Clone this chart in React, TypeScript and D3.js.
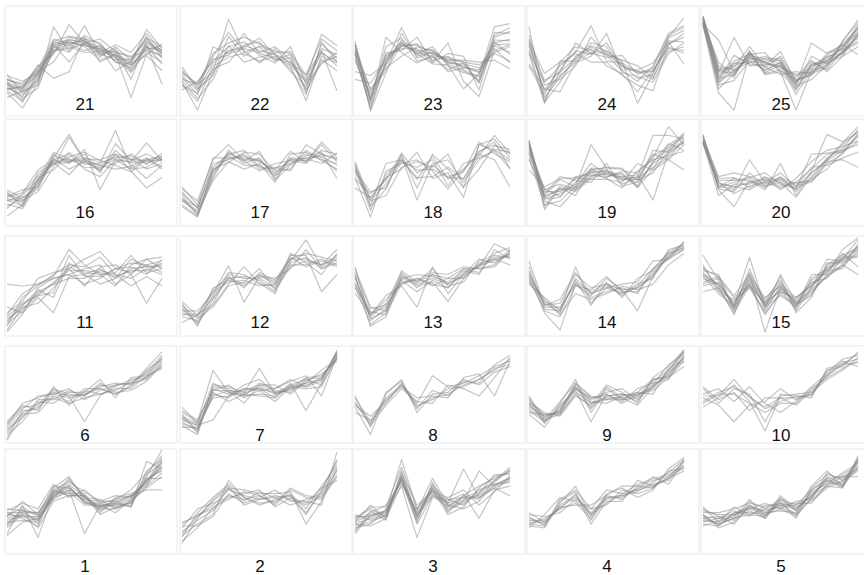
import { useEffect, useRef } from "react";
import * as d3 from "d3";

// each panel: list of profiles, 11 points, value 0 (bottom) .. 10 (top)
const p21 = [
  [2.8, 2.1, 3.9, 6.7, 7.2, 7.0, 6.4, 6.1, 5.2, 7.1, 6.2], [2.2, 1.2, 3.3, 6.2, 7.8, 7.4, 6.8, 5.8, 4.8, 6.8, 5.7],
  [3.4, 2.8, 4.3, 7.3, 6.9, 7.8, 6.1, 5.4, 5.5, 7.7, 6.8], [2.0, 0.4, 3.0, 8.9, 6.3, 9.0, 6.0, 6.6, 4.2, 6.2, 5.2],
  [3.1, 2.4, 4.8, 6.0, 9.1, 7.2, 7.6, 6.3, 5.8, 7.3, 6.4], [3.8, 3.2, 4.0, 7.0, 7.4, 6.8, 5.4, 6.0, 4.9, 6.5, 6.9],
  [2.5, 1.8, 3.5, 6.8, 6.2, 8.0, 7.0, 5.7, 4.4, 6.9, 5.0], [3.0, 1.0, 4.2, 5.2, 7.6, 7.1, 6.2, 7.0, 6.2, 8.2, 6.3],
  [1.5, 2.2, 2.8, 6.5, 7.0, 6.4, 6.9, 5.2, 5.0, 5.9, 4.3], [3.3, 3.0, 4.5, 7.6, 7.1, 7.5, 5.9, 6.4, 3.4, 7.4, 6.0],
  [2.4, 2.6, 4.9, 3.5, 4.2, 7.7, 5.2, 6.0, 1.5, 6.0, 7.1], [3.9, 2.0, 3.2, 7.1, 5.2, 7.2, 6.6, 4.3, 5.3, 7.9, 5.6],
  [2.9, 2.3, 4.1, 6.3, 6.8, 6.2, 6.3, 5.9, 5.1, 8.6, 6.6], [2.3, 2.7, 3.8, 7.4, 7.9, 7.6, 7.2, 5.2, 4.6, 7.0, 2.9],
  [3.2, 1.4, 2.5, 6.9, 7.3, 6.9, 6.6, 6.2, 5.7, 6.4, 5.9], [2.6, 1.6, 3.6, 7.2, 7.5, 7.3, 6.5, 5.6, 4.1, 6.7, 6.5],
  [3.5, 2.5, 4.4, 6.4, 6.6, 7.1, 5.7, 6.8, 5.4, 7.6, 6.1],
];
const p22 = [
  [3.8, 2.2, 5.1, 6.3, 6.9, 6.4, 6.0, 5.2, 3.1, 6.1, 5.3], [3.1, 0.2, 4.2, 9.7, 6.2, 6.8, 5.3, 5.7, 2.1, 5.2, 5.8],
  [4.2, 2.8, 6.1, 7.2, 7.8, 7.1, 6.3, 6.1, 3.4, 8.1, 6.9], [2.9, 1.1, 4.8, 5.7, 6.1, 5.3, 5.8, 4.8, 1.2, 5.8, 5.1],
  [4.4, 2.4, 3.8, 7.9, 5.8, 6.9, 6.2, 6.3, 3.8, 6.4, 2.2], [2.3, 3.2, 5.3, 6.8, 7.3, 5.9, 5.1, 6.8, 2.9, 5.0, 6.2],
  [3.6, 1.8, 6.8, 6.1, 6.6, 6.2, 6.8, 5.4, 2.4, 7.1, 5.6], [3.3, 1.4, 3.4, 6.9, 5.2, 5.7, 6.1, 4.2, 2.7, 6.3, 4.8],
  [4.0, 3.0, 5.5, 5.9, 8.2, 6.1, 5.6, 5.1, 3.9, 7.6, 6.4], [2.7, 2.0, 4.5, 5.2, 7.0, 7.3, 5.4, 6.0, 2.2, 5.5, 4.3],
  [4.7, 2.5, 5.8, 8.3, 6.4, 5.1, 6.6, 4.9, 3.2, 6.6, 6.0], [3.4, 2.9, 4.1, 6.4, 6.7, 7.7, 5.9, 4.5, 1.8, 7.3, 5.2],
];
const p23 = [
  [6.2, 1.2, 4.9, 7.1, 6.3, 6.1, 5.3, 4.8, 4.2, 7.0, 7.1], [7.1, 0.1, 4.1, 8.2, 5.8, 6.3, 5.0, 4.3, 3.3, 8.3, 8.2],
  [5.3, 1.9, 5.8, 6.8, 7.0, 5.4, 5.7, 5.2, 4.9, 6.2, 6.8], [7.4, 1.0, 7.8, 6.2, 5.1, 5.9, 4.4, 5.1, 3.1, 6.9, 6.2],
  [6.0, 0.4, 5.3, 7.3, 6.0, 6.8, 4.8, 4.1, 3.8, 8.9, 9.2], [4.2, 3.8, 5.1, 8.8, 5.6, 6.2, 5.4, 5.4, 5.2, 5.4, 4.5],
  [6.5, 1.4, 6.2, 6.4, 7.8, 5.2, 7.2, 3.2, 1.6, 6.4, 7.0], [6.9, 2.2, 4.3, 7.0, 6.2, 5.8, 4.2, 4.6, 4.4, 7.3, 6.0],
  [5.6, 0.8, 6.0, 6.6, 6.6, 5.1, 6.1, 5.8, 2.3, 7.8, 8.4], [6.3, 2.4, 4.6, 5.8, 6.8, 6.4, 5.1, 5.0, 4.6, 6.1, 5.3],
  [7.0, 1.3, 6.8, 7.7, 5.3, 5.7, 5.8, 4.4, 3.6, 7.2, 7.6], [3.4, 3.0, 5.6, 7.2, 6.1, 5.0, 4.9, 2.4, 4.0, 6.6, 5.1],
  [6.1, 0.3, 5.4, 6.9, 7.1, 6.0, 5.5, 5.2, 3.0, 8.0, 8.8], [6.6, 1.6, 5.0, 7.5, 6.4, 6.5, 5.2, 4.7, 4.1, 7.5, 7.4],
];
const p24 = [
  [7.1, 2.1, 3.8, 5.2, 6.2, 6.1, 4.8, 4.1, 4.2, 7.1, 7.8], [8.9, 1.0, 3.1, 5.8, 6.8, 5.9, 4.3, 3.2, 4.8, 8.2, 9.0],
  [6.2, 3.1, 4.8, 6.2, 9.0, 5.3, 5.1, 4.2, 4.3, 6.8, 6.1], [5.0, 2.4, 2.1, 5.1, 5.8, 8.2, 4.1, 3.7, 3.1, 6.1, 7.2],
  [7.4, 4.0, 5.2, 6.8, 6.4, 6.3, 5.3, 0.9, 4.0, 7.8, 9.8], [6.4, 1.2, 4.2, 5.6, 7.2, 6.8, 4.4, 4.4, 5.1, 7.3, 5.0],
  [8.0, 2.8, 3.4, 4.8, 7.8, 6.0, 5.4, 4.8, 3.6, 6.3, 6.8], [4.8, 1.8, 5.0, 6.1, 5.2, 5.2, 3.8, 2.8, 2.2, 7.0, 8.2],
  [7.2, 3.3, 4.1, 7.2, 6.1, 5.7, 5.9, 3.9, 4.6, 8.0, 8.8], [6.0, 0.9, 5.3, 5.3, 6.6, 4.8, 4.0, 2.1, 4.4, 6.6, 6.4],
  [6.8, 2.3, 4.4, 6.4, 6.0, 7.2, 4.7, 4.3, 3.4, 7.4, 7.3], [7.6, 1.5, 3.6, 5.5, 6.9, 6.4, 5.0, 3.5, 3.9, 7.7, 8.5],
];
const p25 = [
  [9.8, 4.2, 4.1, 6.1, 5.1, 4.8, 3.2, 4.1, 5.0, 6.2, 8.1], [9.2, 3.1, 5.0, 5.8, 4.3, 5.2, 2.2, 4.8, 5.3, 6.8, 8.8],
  [10, 4.8, 4.3, 5.2, 5.2, 4.3, 3.4, 3.9, 5.8, 6.1, 7.9], [9.0, 2.0, 0.2, 6.0, 4.1, 4.9, 3.8, 4.2, 4.8, 6.3, 7.2],
  [9.6, 4.4, 4.8, 5.4, 5.8, 5.3, 2.9, 7.2, 6.1, 6.6, 9.1], [9.3, 5.2, 3.8, 6.3, 3.9, 4.2, 0.2, 4.3, 5.2, 5.8, 8.3],
  [9.9, 3.3, 5.9, 5.0, 4.8, 6.3, 3.1, 5.2, 4.4, 6.4, 7.4], [9.1, 7.5, 4.2, 5.7, 5.2, 4.6, 3.9, 4.5, 5.9, 7.1, 8.7],
  [9.7, 3.8, 5.3, 6.0, 6.2, 4.1, 2.4, 4.8, 5.5, 6.0, 8.0], [9.4, 2.8, 3.3, 5.3, 4.4, 5.1, 2.7, 3.4, 4.9, 7.3, 9.6],
  [10, 4.0, 7.8, 4.8, 5.0, 4.7, 3.6, 5.4, 4.2, 5.8, 6.8], [9.2, 2.4, 4.0, 6.2, 4.6, 5.8, 3.3, 3.8, 6.2, 6.9, 8.2],
  [9.8, 4.6, 3.6, 6.4, 4.0, 4.4, 2.8, 5.8, 5.0, 6.2, 8.9], [9.0, 3.6, 5.1, 5.1, 5.6, 5.0, 1.8, 4.4, 5.4, 7.0, 6.0],
  [9.5, 3.0, 4.4, 5.6, 5.3, 5.4, 3.0, 4.9, 5.7, 6.5, 7.7], [9.3, 4.3, 4.6, 6.8, 4.7, 3.9, 4.2, 4.0, 4.6, 7.4, 9.3],
  [9.7, 3.5, 3.9, 5.9, 5.5, 5.6, 2.5, 5.0, 5.2, 6.7, 8.5],
];
const p16 = [
  [2.0, 1.8, 3.8, 6.1, 6.2, 5.9, 5.4, 6.3, 5.9, 6.0, 6.2], [1.2, 2.2, 3.1, 6.4, 8.9, 6.2, 5.1, 6.8, 6.3, 5.2, 5.8],
  [2.8, 1.2, 4.3, 5.1, 7.0, 5.7, 5.8, 9.3, 5.3, 6.2, 6.6], [2.3, 3.0, 3.3, 6.8, 5.8, 7.3, 3.0, 6.1, 6.0, 8.0, 6.1],
  [0.2, 1.4, 4.8, 5.9, 4.6, 6.3, 6.2, 6.8, 5.0, 3.2, 4.3], [1.8, 2.4, 4.1, 7.0, 6.3, 5.4, 5.3, 5.8, 6.8, 5.8, 6.4],
  [2.6, 1.9, 2.8, 5.4, 8.6, 6.1, 5.6, 5.2, 5.5, 6.4, 5.4], [1.5, 1.0, 3.6, 5.8, 5.9, 6.8, 4.8, 7.9, 6.1, 6.8, 6.0],
  [2.2, 2.7, 5.1, 6.2, 6.8, 5.2, 4.4, 6.2, 5.2, 5.4, 6.3], [3.0, 2.1, 3.4, 6.6, 6.1, 6.4, 5.9, 6.4, 6.6, 5.7, 6.9],
  [1.9, 1.3, 4.0, 6.3, 5.2, 6.0, 5.0, 7.2, 5.7, 4.2, 5.6], [1.0, 2.6, 4.5, 5.7, 6.5, 7.0, 6.1, 5.6, 4.9, 6.3, 5.2],
  [2.5, 1.6, 3.9, 6.0, 6.0, 6.2, 5.6, 6.6, 6.2, 6.1, 6.5],
];
const p17 = [
  [2.1, 0.3, 5.0, 6.8, 6.2, 6.1, 4.8, 6.2, 6.1, 6.8, 6.3], [2.8, 1.0, 5.8, 6.2, 6.8, 5.2, 5.3, 5.8, 6.8, 6.2, 5.8],
  [1.8, 0.8, 4.2, 7.2, 5.8, 6.4, 4.2, 6.3, 6.0, 7.8, 6.0], [1.2, 0.1, 5.2, 5.9, 7.0, 6.8, 5.0, 5.2, 7.2, 6.1, 5.2],
  [3.1, 1.8, 6.2, 7.8, 6.1, 5.0, 5.8, 6.1, 5.8, 7.2, 6.8], [2.4, 0.4, 4.0, 6.0, 5.2, 5.8, 3.8, 6.8, 7.0, 6.4, 5.0],
  [2.0, 1.2, 5.4, 6.8, 7.2, 5.4, 5.4, 5.0, 7.8, 6.8, 6.2], [3.3, 1.4, 6.4, 6.4, 6.4, 6.2, 4.6, 6.4, 6.3, 5.8, 6.9],
  [1.4, 0.2, 4.5, 7.0, 6.0, 7.1, 4.0, 5.6, 6.6, 7.0, 4.2], [2.6, 1.1, 5.1, 6.3, 6.6, 6.0, 5.1, 7.1, 5.9, 8.1, 6.4],
  [1.9, 0.6, 4.8, 6.6, 5.6, 5.6, 4.5, 5.8, 6.4, 6.6, 5.6],
];
const p18 = [
  [5.2, 2.1, 4.2, 6.1, 5.1, 5.2, 4.3, 4.2, 7.1, 7.8, 6.8], [5.8, 1.2, 3.1, 6.8, 3.2, 6.8, 5.2, 3.2, 7.8, 7.2, 6.2],
  [4.3, 0.1, 5.0, 5.8, 6.2, 5.0, 3.1, 5.1, 7.0, 8.1, 5.2], [5.0, 2.8, 3.2, 6.6, 1.9, 5.8, 6.2, 3.8, 6.2, 7.3, 7.0],
  [3.2, 2.2, 4.3, 5.2, 7.0, 4.2, 4.8, 2.2, 7.8, 8.4, 6.4], [5.6, 1.3, 5.8, 6.2, 4.1, 6.6, 4.1, 5.2, 6.8, 6.2, 3.3],
  [4.8, 1.8, 2.4, 5.4, 6.0, 5.4, 6.8, 3.3, 5.2, 7.7, 7.3], [4.1, 2.6, 4.0, 6.9, 4.8, 5.6, 4.4, 4.9, 8.1, 6.8, 6.0],
  [5.4, 0.8, 4.6, 6.2, 4.3, 4.4, 5.4, 4.1, 6.6, 8.8, 6.9], [6.0, 1.9, 3.6, 5.9, 5.4, 6.2, 3.4, 5.8, 6.4, 7.1, 5.3],
];
const p19 = [
  [8.1, 2.2, 3.1, 3.2, 4.8, 5.1, 4.2, 3.8, 5.8, 6.8, 8.1], [7.2, 3.1, 2.3, 3.8, 5.2, 4.4, 4.8, 3.2, 5.2, 7.8, 8.8],
  [8.3, 1.2, 3.4, 2.8, 4.2, 4.8, 4.3, 4.3, 6.8, 6.2, 7.8], [6.2, 2.4, 4.1, 3.3, 7.8, 5.3, 5.2, 4.0, 4.8, 7.2, 8.2],
  [7.8, 2.8, 2.8, 4.2, 4.9, 4.2, 3.2, 5.0, 6.2, 6.6, 7.1], [7.0, 1.8, 1.2, 3.0, 4.4, 5.0, 4.0, 4.4, 8.8, 8.8, 8.4],
  [8.0, 0.9, 3.2, 2.4, 5.1, 5.4, 5.3, 3.3, 6.1, 7.3, 9.1], [5.1, 3.3, 4.2, 4.3, 4.1, 4.1, 3.8, 5.8, 5.1, 6.2, 5.1],
  [8.2, 2.1, 2.6, 3.6, 5.8, 4.6, 4.4, 4.6, 1.9, 7.0, 8.0], [7.4, 2.0, 2.2, 4.4, 4.6, 4.3, 5.0, 4.8, 6.4, 9.7, 7.8],
  [7.7, 3.0, 3.6, 3.1, 5.3, 5.2, 3.6, 4.2, 5.4, 6.4, 8.4], [6.8, 2.6, 4.4, 4.0, 3.8, 5.8, 3.4, 3.8, 7.2, 7.0, 8.9],
  [6.4, 1.4, 1.8, 3.4, 5.0, 4.9, 4.6, 3.4, 5.9, 7.9, 7.2], [7.6, 2.3, 3.0, 3.0, 4.5, 4.7, 4.1, 4.1, 6.6, 7.5, 8.6],
];
const p20 = [
  [8.2, 3.8, 3.2, 3.8, 4.1, 3.8, 3.2, 4.8, 6.1, 7.2, 8.8], [8.8, 3.2, 3.8, 4.2, 3.2, 4.2, 3.0, 4.2, 6.2, 7.8, 9.2],
  [7.9, 3.4, 3.0, 6.2, 3.8, 3.2, 3.8, 5.2, 6.8, 7.0, 8.1], [8.4, 4.2, 4.3, 3.2, 4.3, 4.0, 3.4, 3.8, 5.8, 6.8, 9.0],
  [8.9, 3.0, 1.2, 4.0, 3.0, 5.8, 2.4, 4.8, 6.2, 8.0, 9.7], [8.1, 4.0, 4.0, 4.3, 4.8, 3.6, 3.1, 6.8, 6.9, 7.2, 7.8],
  [8.0, 3.6, 3.4, 3.0, 4.0, 3.4, 3.8, 3.9, 6.0, 6.2, 5.4], [8.6, 4.4, 4.8, 4.4, 3.6, 4.4, 2.8, 5.0, 8.9, 8.1, 9.1],
  [8.3, 3.1, 2.8, 4.8, 3.4, 3.8, 2.2, 4.4, 6.4, 7.4, 9.4], [8.0, 2.4, 3.6, 3.6, 4.4, 3.0, 4.2, 6.0, 7.2, 7.6, 8.2],
  [8.7, 3.8, 2.6, 3.4, 3.8, 4.8, 3.3, 5.4, 5.6, 6.4, 7.0], [8.2, 3.3, 4.2, 3.9, 3.4, 4.3, 3.6, 4.1, 5.2, 7.0, 8.7],
];
const p11 = [
  [1.2, 3.0, 4.2, 5.2, 7.0, 6.2, 6.8, 5.8, 6.8, 7.0, 7.2], [0.2, 2.1, 4.8, 5.8, 6.2, 6.8, 7.2, 5.2, 6.2, 7.8, 6.8],
  [1.8, 3.2, 4.0, 4.3, 8.2, 6.0, 6.0, 6.8, 7.0, 6.2, 7.8], [0.8, 3.8, 5.0, 6.2, 7.2, 7.0, 8.0, 6.2, 5.8, 6.8, 6.2],
  [2.8, 2.2, 3.8, 2.2, 6.0, 6.2, 5.2, 5.8, 7.8, 7.0, 7.0], [0.4, 2.8, 3.2, 4.8, 6.8, 5.0, 7.0, 7.2, 6.2, 3.2, 5.8],
  [2.0, 4.2, 5.2, 6.0, 8.8, 7.2, 6.2, 5.0, 7.2, 7.8, 8.0], [1.0, 2.4, 4.4, 5.2, 5.8, 5.8, 6.6, 6.2, 5.0, 6.0, 5.0],
  [2.2, 3.4, 5.8, 6.4, 6.8, 7.8, 8.6, 6.8, 7.4, 7.2, 7.6], [1.4, 3.0, 4.6, 3.8, 7.4, 6.4, 6.2, 6.4, 8.2, 6.4, 6.8],
  [5.2, 5.0, 5.2, 5.8, 6.2, 5.2, 5.8, 6.8, 6.4, 7.2, 6.4], [1.6, 2.6, 4.0, 5.4, 6.6, 6.6, 6.4, 6.0, 6.6, 6.6, 7.4],
];
const p12 = [
  [2.2, 1.8, 3.8, 5.8, 5.2, 6.1, 5.2, 7.8, 7.8, 7.2, 8.0], [2.8, 1.2, 3.2, 6.2, 5.8, 5.8, 4.8, 7.2, 7.2, 7.8, 7.2],
  [2.0, 2.1, 3.0, 5.2, 7.0, 5.3, 4.2, 7.6, 9.8, 7.0, 8.2], [3.2, 0.8, 4.8, 5.6, 5.0, 6.2, 5.4, 8.2, 8.2, 4.4, 6.2],
  [2.4, 2.4, 4.2, 7.1, 3.3, 6.0, 5.8, 6.8, 8.8, 6.8, 7.8], [1.8, 1.4, 4.0, 6.4, 6.2, 5.2, 5.0, 8.0, 7.0, 7.6, 7.0],
  [3.0, 1.6, 2.8, 5.0, 5.4, 6.8, 4.6, 7.0, 7.6, 7.2, 8.8], [2.6, 1.0, 3.6, 5.8, 6.0, 5.6, 4.4, 8.4, 7.4, 6.2, 8.4],
  [1.2, 2.0, 4.4, 5.4, 5.6, 5.0, 5.2, 7.4, 8.0, 6.8, 7.4], [3.4, 1.9, 4.6, 6.0, 4.8, 6.4, 5.6, 7.8, 8.4, 8.0, 7.6],
];
const p13 = [
  [5.8, 2.2, 2.8, 5.8, 5.2, 5.8, 5.2, 6.2, 7.0, 7.8, 8.2], [5.0, 1.0, 2.2, 5.2, 5.8, 5.2, 4.8, 6.8, 6.8, 7.2, 8.8],
  [6.8, 2.8, 2.4, 6.2, 4.8, 6.2, 5.8, 5.8, 7.2, 8.0, 8.0], [4.3, 2.0, 4.0, 5.0, 2.8, 7.0, 4.2, 6.2, 7.8, 7.4, 8.4],
  [6.2, 0.8, 1.8, 5.8, 6.2, 6.0, 5.4, 6.6, 6.2, 8.8, 7.8], [5.4, 1.8, 3.2, 6.4, 5.0, 5.4, 3.4, 5.8, 7.4, 7.8, 7.2],
  [6.4, 2.6, 3.0, 5.4, 5.6, 6.4, 6.2, 7.0, 6.8, 7.0, 8.6], [4.8, 2.3, 2.0, 6.0, 5.4, 6.8, 5.0, 5.4, 7.6, 8.2, 8.0],
  [7.0, 1.4, 2.6, 5.6, 4.4, 5.6, 4.8, 6.4, 7.0, 9.4, 8.6], [5.2, 2.0, 3.6, 5.2, 5.8, 5.0, 5.8, 6.8, 6.4, 8.4, 9.0],
  [6.0, 1.6, 2.4, 6.6, 5.4, 6.2, 5.2, 6.0, 7.2, 7.6, 8.4],
];
const p14 = [
  [6.2, 3.2, 2.2, 5.8, 4.2, 5.0, 4.3, 4.8, 6.2, 8.2, 9.0], [7.0, 2.8, 2.8, 5.2, 3.8, 4.4, 4.8, 4.2, 6.8, 7.8, 8.8],
  [5.2, 3.8, 2.4, 7.0, 3.2, 4.8, 4.2, 5.2, 5.8, 8.8, 9.2], [6.0, 2.2, 0.4, 5.2, 4.0, 5.8, 4.6, 2.4, 6.0, 8.0, 9.6],
  [7.6, 3.0, 3.2, 6.2, 4.8, 5.2, 4.0, 5.0, 6.8, 8.4, 9.0], [5.8, 3.6, 2.0, 4.2, 3.6, 4.2, 5.0, 4.6, 5.2, 7.2, 8.4],
  [5.4, 3.4, 2.6, 5.6, 3.0, 5.4, 3.8, 5.8, 6.6, 8.6, 9.4], [6.6, 2.4, 1.8, 5.0, 4.6, 6.0, 4.4, 4.4, 6.4, 8.0, 8.8],
  [6.4, 3.0, 3.6, 6.4, 4.2, 4.8, 5.2, 5.4, 7.6, 7.8, 9.6], [5.6, 2.6, 2.4, 5.4, 4.4, 5.2, 4.6, 4.8, 6.0, 8.4, 9.2],
];
const p15 = [
  [6.2, 5.2, 3.2, 5.8, 2.8, 4.8, 3.2, 4.8, 6.8, 7.8, 8.8], [5.2, 5.8, 3.8, 5.2, 2.2, 4.2, 3.0, 4.2, 6.2, 7.2, 9.2],
  [7.0, 4.8, 2.2, 5.0, 3.2, 5.2, 3.8, 5.0, 7.0, 8.0, 8.0], [6.0, 4.2, 3.0, 8.0, 2.8, 4.0, 2.8, 5.8, 6.8, 7.8, 9.8],
  [5.4, 6.0, 4.0, 6.2, 0.2, 4.8, 3.2, 4.6, 6.0, 7.0, 8.6], [8.2, 5.6, 2.8, 5.4, 3.2, 6.0, 2.2, 3.8, 7.2, 8.2, 9.0],
  [6.4, 5.0, 2.0, 6.0, 3.8, 5.0, 3.4, 5.2, 6.4, 8.4, 7.0], [4.4, 4.8, 3.4, 5.0, 2.0, 4.4, 3.8, 5.0, 6.6, 6.8, 9.4],
  [6.6, 6.2, 2.6, 6.8, 3.0, 5.4, 2.8, 6.2, 6.2, 8.8, 10], [7.2, 4.4, 3.6, 4.8, 2.4, 5.0, 3.0, 4.0, 7.4, 7.4, 8.2],
  [5.0, 5.4, 2.8, 6.4, 3.4, 4.4, 3.6, 5.4, 5.8, 8.0, 9.0], [6.8, 6.0, 2.4, 5.6, 3.6, 5.6, 2.4, 4.8, 7.8, 7.6, 8.4],
  [5.8, 5.2, 3.0, 6.2, 2.6, 6.2, 3.2, 4.4, 6.0, 7.2, 6.2], [6.2, 4.6, 2.6, 5.2, 3.0, 4.6, 2.6, 5.6, 6.6, 7.6, 8.8],
];
const p6 = [
  [1.2, 3.2, 3.8, 5.2, 4.8, 5.2, 5.8, 5.2, 6.2, 7.0, 8.8], [0.2, 2.8, 4.2, 4.8, 4.2, 4.8, 5.2, 5.8, 5.8, 7.2, 9.2],
  [2.0, 3.8, 4.0, 5.8, 5.2, 5.0, 6.2, 6.0, 6.8, 7.0, 8.2], [1.0, 3.0, 3.2, 5.0, 4.4, 5.8, 5.8, 5.2, 6.0, 7.8, 9.0],
  [1.8, 4.2, 4.8, 5.4, 5.0, 2.2, 5.0, 6.2, 6.4, 6.8, 8.6], [0.8, 2.2, 4.4, 4.2, 5.4, 5.4, 6.8, 4.8, 7.0, 7.2, 8.0],
  [0.4, 3.4, 3.6, 5.6, 5.0, 5.2, 6.0, 6.4, 6.2, 8.0, 9.8], [2.2, 4.0, 3.4, 6.0, 4.0, 5.6, 5.2, 5.6, 6.6, 7.4, 9.0],
  [1.4, 2.6, 4.6, 4.6, 5.6, 5.0, 6.4, 5.4, 5.6, 6.6, 8.4], [1.6, 3.6, 5.0, 5.2, 5.8, 4.6, 5.6, 6.2, 6.4, 7.6, 9.4],
];
const p7 = [
  [2.8, 2.0, 5.8, 5.2, 5.2, 6.0, 5.2, 5.8, 6.2, 6.8, 9.8], [2.2, 1.2, 5.2, 4.8, 5.8, 5.8, 4.8, 6.2, 6.8, 6.2, 9.2],
  [3.2, 2.2, 7.8, 5.4, 5.0, 6.4, 5.8, 6.8, 6.0, 7.0, 9.6], [1.8, 0.8, 6.2, 6.0, 5.4, 8.0, 5.2, 5.8, 7.0, 7.2, 9.0],
  [2.6, 1.8, 2.4, 5.0, 5.8, 5.6, 4.4, 6.0, 5.8, 6.0, 9.4], [2.0, 1.4, 5.0, 5.6, 4.2, 6.2, 6.2, 5.2, 6.6, 7.4, 8.8],
  [3.4, 2.4, 5.6, 6.2, 5.0, 5.2, 5.0, 6.4, 3.4, 6.4, 9.8], [2.4, 1.8, 4.8, 5.0, 6.2, 6.8, 5.4, 5.6, 6.4, 7.8, 9.0],
  [3.0, 1.0, 6.0, 5.8, 4.8, 5.6, 5.8, 6.6, 7.2, 5.0, 9.4], [1.6, 1.6, 5.4, 4.4, 5.2, 5.0, 4.8, 6.2, 6.0, 6.6, 10],
  [3.8, 2.0, 6.4, 5.4, 5.6, 6.2, 5.6, 5.4, 6.8, 7.0, 9.2], [2.6, 1.4, 5.6, 5.6, 5.4, 5.8, 5.4, 6.0, 6.4, 6.8, 9.6],
];
const p8 = [
  [4.2, 2.0, 4.8, 6.2, 3.8, 4.8, 5.2, 6.2, 6.8, 7.8, 9.0], [4.8, 2.2, 4.2, 6.4, 4.2, 7.2, 6.0, 6.4, 7.2, 8.2, 8.8],
  [3.8, 0.8, 5.2, 6.8, 3.2, 5.2, 5.4, 6.8, 6.2, 7.6, 8.2], [4.4, 1.8, 4.0, 5.8, 4.4, 4.2, 6.2, 5.8, 5.0, 7.0, 9.2],
  [3.2, 2.4, 4.6, 6.0, 4.8, 5.0, 4.8, 7.0, 7.4, 5.0, 8.8], [4.0, 2.8, 4.4, 6.2, 4.0, 4.6, 5.8, 6.0, 6.8, 8.0, 8.4],
  [5.0, 1.6, 5.4, 6.6, 3.6, 5.6, 5.0, 6.6, 6.4, 8.4, 9.4],
];
const p9 = [
  [3.8, 2.8, 3.2, 6.0, 4.2, 4.8, 4.8, 5.0, 6.2, 7.2, 9.2], [4.2, 2.2, 3.8, 5.8, 4.8, 5.2, 4.2, 5.2, 5.8, 7.8, 10],
  [3.2, 3.0, 3.0, 5.2, 3.8, 5.0, 5.2, 4.4, 6.8, 7.0, 8.8], [4.8, 2.0, 4.2, 6.8, 3.2, 5.8, 4.6, 4.8, 6.0, 7.4, 9.8],
  [4.0, 2.6, 3.4, 6.2, 4.4, 4.2, 5.0, 5.4, 5.2, 8.0, 9.0], [3.0, 1.6, 4.0, 5.6, 2.2, 5.2, 4.4, 5.8, 6.4, 6.8, 9.4],
  [4.4, 3.2, 2.8, 5.0, 4.0, 6.2, 5.4, 4.2, 7.0, 8.2, 10], [5.0, 2.4, 4.4, 6.4, 5.0, 4.6, 5.0, 5.2, 5.6, 7.0, 8.2],
  [4.2, 3.0, 3.2, 5.8, 4.6, 5.4, 5.8, 4.6, 6.2, 8.4, 9.6], [3.4, 2.2, 3.6, 6.0, 3.6, 6.0, 4.8, 4.0, 6.0, 7.6, 8.8],
  [4.6, 2.8, 3.4, 6.4, 4.8, 5.0, 5.2, 5.0, 6.6, 7.8, 9.8], [3.6, 2.4, 3.0, 5.4, 4.2, 4.6, 4.6, 5.4, 6.8, 7.2, 9.4],
];
const p10 = [
  [5.0, 5.0, 6.8, 4.8, 3.8, 4.8, 4.8, 5.2, 7.2, 8.6, 9.0], [4.2, 5.2, 5.2, 4.2, 3.2, 4.2, 4.2, 5.8, 7.0, 8.0, 8.8],
  [5.8, 4.2, 5.8, 5.2, 2.2, 5.2, 5.0, 5.0, 7.8, 8.2, 9.8], [5.2, 5.8, 4.4, 6.0, 4.2, 3.2, 4.4, 6.0, 7.4, 8.8, 8.2],
  [3.8, 4.8, 6.2, 4.4, 1.2, 5.0, 5.2, 5.4, 6.8, 7.8, 9.2], [4.8, 4.0, 2.2, 4.0, 4.4, 5.8, 4.6, 5.2, 7.6, 9.0, 9.4],
  [6.0, 4.6, 5.4, 3.4, 4.8, 4.8, 4.0, 5.6, 7.2, 8.4, 9.6], [4.4, 5.4, 6.0, 5.0, 3.6, 4.4, 5.0, 4.8, 8.0, 8.4, 8.6],
];
const p1 = [
  [2.8, 3.2, 2.8, 5.2, 5.8, 4.8, 4.2, 4.2, 4.8, 6.8, 8.2], [2.2, 3.8, 2.2, 5.8, 5.2, 5.2, 3.8, 4.8, 5.2, 6.2, 8.8],
  [3.2, 3.0, 3.0, 5.0, 6.2, 4.4, 4.4, 4.0, 4.2, 7.0, 7.8], [1.2, 4.2, 0.8, 5.4, 7.0, 5.0, 4.8, 3.8, 4.6, 6.0, 7.2],
  [3.0, 4.6, 3.2, 6.2, 6.0, 4.6, 4.0, 4.6, 4.0, 8.8, 8.0], [2.0, 3.4, 2.6, 4.8, 5.8, 1.2, 4.2, 4.4, 5.0, 6.6, 9.2],
  [3.4, 2.8, 2.0, 5.6, 5.4, 5.4, 3.4, 5.0, 5.4, 6.4, 8.4], [3.8, 3.6, 3.4, 5.2, 6.4, 5.0, 4.0, 4.2, 4.4, 7.2, 10],
  [2.4, 2.6, 2.4, 6.0, 7.2, 4.8, 4.6, 4.6, 5.2, 5.8, 5.8], [3.0, 4.0, 3.0, 5.0, 5.6, 4.2, 4.2, 3.4, 4.8, 7.4, 8.6],
  [1.8, 3.2, 1.8, 4.6, 5.2, 5.2, 3.6, 4.4, 4.0, 7.8, 9.0], [3.4, 3.4, 3.4, 5.8, 6.6, 5.6, 4.6, 5.2, 5.0, 6.8, 8.0],
  [1.0, 2.4, 2.8, 5.4, 6.0, 4.6, 3.8, 3.8, 4.6, 6.2, 7.6], [3.6, 4.4, 3.8, 6.4, 5.0, 5.8, 4.4, 4.8, 5.8, 7.6, 9.4],
  [2.6, 3.0, 2.6, 5.0, 6.8, 5.2, 3.2, 4.0, 4.4, 7.0, 7.0], [2.2, 3.6, 3.2, 5.6, 6.2, 4.4, 4.0, 4.4, 5.2, 6.6, 8.8],
];
const p2 = [
  [1.2, 3.0, 4.2, 5.8, 5.2, 4.8, 5.2, 4.8, 4.2, 5.2, 7.8], [2.2, 3.2, 3.8, 5.2, 4.8, 5.2, 4.2, 5.8, 5.0, 4.8, 7.2],
  [1.0, 2.2, 3.2, 6.8, 5.0, 4.2, 4.8, 5.2, 3.2, 5.8, 8.8], [0.2, 2.8, 4.8, 6.2, 4.2, 4.8, 5.0, 4.2, 4.8, 5.4, 8.2],
  [1.8, 3.8, 4.4, 5.0, 5.4, 5.8, 4.0, 5.0, 4.4, 6.0, 6.8], [1.4, 2.6, 3.6, 6.0, 5.8, 5.4, 5.4, 5.6, 2.2, 4.6, 8.0],
  [2.0, 2.0, 3.0, 5.4, 4.4, 5.0, 5.8, 4.6, 4.6, 4.2, 9.8], [0.8, 3.4, 5.0, 6.4, 5.0, 4.4, 4.6, 5.4, 3.8, 6.2, 8.4],
  [0.4, 1.8, 4.0, 4.8, 5.6, 5.2, 4.4, 6.0, 5.2, 5.0, 7.4], [2.4, 3.0, 4.6, 6.0, 4.6, 5.6, 5.0, 5.2, 3.4, 5.6, 9.0],
];
const p3 = [
  [2.2, 2.8, 3.2, 7.0, 3.2, 5.8, 4.2, 4.8, 5.2, 6.2, 7.2], [2.8, 3.8, 3.0, 7.8, 3.0, 6.2, 4.8, 4.2, 5.8, 6.4, 7.0],
  [1.8, 2.2, 3.8, 6.8, 2.2, 5.2, 4.0, 5.2, 4.8, 6.8, 7.8], [1.2, 3.2, 3.4, 9.0, 3.8, 6.0, 4.4, 8.0, 5.0, 6.0, 6.8],
  [2.4, 4.2, 2.8, 7.2, 3.4, 5.8, 3.2, 4.0, 6.0, 7.2, 7.6], [3.0, 3.0, 3.6, 6.2, 0.8, 5.0, 4.6, 5.4, 2.8, 5.8, 6.2],
  [2.0, 2.4, 3.2, 7.4, 2.8, 6.4, 4.0, 4.6, 7.8, 6.2, 7.0], [1.4, 3.6, 2.6, 7.6, 4.2, 5.6, 3.8, 4.4, 5.4, 6.6, 8.0],
  [2.6, 3.4, 4.2, 6.6, 3.0, 5.2, 4.8, 5.0, 5.0, 6.0, 5.2], [3.2, 2.6, 3.0, 7.2, 2.4, 6.6, 3.4, 5.2, 6.2, 7.0, 7.8],
  [2.2, 2.0, 2.8, 6.4, 3.6, 7.0, 4.2, 3.8, 4.6, 6.4, 6.6], [2.8, 4.0, 4.0, 8.2, 3.8, 5.6, 5.0, 5.8, 4.2, 5.6, 7.2],
  [1.6, 3.0, 3.4, 7.0, 3.2, 5.4, 4.4, 5.0, 5.6, 6.8, 8.2], [2.4, 3.2, 3.6, 6.8, 2.6, 6.0, 3.6, 4.6, 5.4, 7.4, 7.4],
];
const p4 = [
  [2.8, 2.2, 4.2, 5.2, 3.2, 4.8, 5.2, 5.8, 6.2, 7.0, 8.2], [2.2, 2.8, 3.8, 4.4, 2.8, 5.2, 4.8, 6.2, 6.8, 7.2, 8.8],
  [3.0, 2.0, 4.8, 5.8, 3.8, 4.2, 5.8, 5.4, 6.0, 7.8, 8.0], [2.4, 2.4, 4.0, 5.0, 3.4, 5.0, 5.0, 6.0, 6.4, 6.8, 9.0],
  [3.2, 3.0, 3.4, 4.8, 3.8, 5.8, 5.4, 6.4, 7.0, 7.4, 8.4], [2.0, 1.8, 4.4, 6.2, 3.0, 5.4, 6.0, 5.0, 5.8, 8.0, 9.2],
  [2.6, 2.6, 3.8, 5.4, 2.2, 4.6, 4.6, 6.8, 6.2, 7.0, 7.8], [1.8, 3.2, 5.0, 4.6, 3.2, 4.4, 5.4, 5.8, 7.2, 6.4, 8.8],
  [3.4, 2.4, 4.0, 4.2, 4.2, 5.2, 6.2, 6.2, 6.0, 7.2, 8.2], [2.2, 2.0, 4.6, 5.6, 2.6, 5.0, 5.2, 5.6, 6.6, 7.6, 9.0],
];
const p5 = [
  [3.0, 2.8, 3.2, 3.8, 3.2, 4.2, 3.8, 5.2, 6.8, 6.2, 8.2], [2.8, 2.2, 2.8, 3.2, 3.8, 4.0, 3.2, 4.8, 6.2, 6.0, 8.8],
  [3.8, 3.0, 2.2, 4.2, 2.8, 4.8, 4.2, 5.8, 7.0, 7.2, 8.0], [2.2, 2.0, 3.4, 3.4, 3.2, 3.8, 3.0, 5.0, 7.2, 6.4, 9.0],
  [3.4, 3.4, 3.8, 4.4, 4.0, 4.4, 4.0, 4.6, 6.0, 6.8, 7.8], [4.0, 2.4, 3.0, 4.8, 3.0, 5.0, 3.6, 6.2, 7.8, 6.2, 9.2],
  [3.2, 1.8, 2.4, 4.0, 3.4, 3.6, 3.4, 5.4, 6.6, 7.4, 8.4], [2.4, 2.8, 3.6, 3.0, 4.2, 4.2, 4.4, 4.4, 6.4, 6.6, 9.0],
  [3.0, 2.2, 2.8, 3.6, 2.8, 4.6, 2.8, 6.0, 7.4, 7.0, 8.2], [3.6, 3.2, 3.2, 4.0, 3.6, 4.0, 4.2, 5.0, 7.0, 6.2, 8.8],
  [2.6, 2.4, 4.0, 3.2, 3.0, 5.2, 3.8, 5.2, 6.2, 7.2, 7.2], [2.0, 2.6, 3.0, 4.2, 3.4, 4.4, 3.2, 5.8, 6.8, 6.0, 9.4],
  [3.2, 2.0, 3.4, 3.8, 4.4, 3.8, 4.6, 4.8, 7.6, 6.8, 8.0], [2.8, 3.0, 2.6, 4.6, 3.8, 4.8, 3.6, 5.6, 6.4, 7.6, 8.6],
];

// grid order, top row first
const gridLabels = [
  ["21", "22", "23", "24", "25"],
  ["16", "17", "18", "19", "20"],
  ["11", "12", "13", "14", "15"],
  ["6", "7", "8", "9", "10"],
  ["1", "2", "3", "4", "5"],
];
const gridData = [
  [p21, p22, p23, p24, p25],
  [p16, p17, p18, p19, p20],
  [p11, p12, p13, p14, p15],
  [p6, p7, p8, p9, p10],
  [p1, p2, p3, p4, p5],
];

const W = 864;
const H = 575;
const colX = [7, 182, 355, 529, 703];
const lineW = 155;
const rowBox = [[6, 116], [119, 226], [236, 336], [346, 443], [449, 554]];
const rowArea = [[16, 112], [124, 218], [238, 334], [350, 442], [450, 545]];
const labelY = [110, 218, 328, 441, 572];

const App = () => {
  const ref = useRef<SVGSVGElement>(null);

  useEffect(() => {
    document.body.style.margin = "0";
    const svg = d3.select(ref.current);
    svg.selectAll("*").remove();

    gridData.forEach((row, r) => {
      row.forEach((profiles, c) => {
        const x0 = colX[c];
        const g = svg.append("g");

        g.append("rect")
          .attr("x", x0 - 2)
          .attr("y", rowBox[r][0])
          .attr("width", 172)
          .attr("height", rowBox[r][1] - rowBox[r][0])
          .attr("fill", "#fff")
          .attr("stroke", "#f0f0f0")
          .attr("stroke-width", 1.5);

        const x = d3.scaleLinear().domain([0, 10]).range([x0, x0 + lineW]);
        const y = d3.scaleLinear().domain([0, 10]).range([rowArea[r][1], rowArea[r][0]]);
        const line = d3
          .line<number>()
          .x((_, i) => x(i))
          .y((d) => y(d));

        g.selectAll("path.prof")
          .data(profiles)
          .enter()
          .append("path")
          .attr("class", "prof")
          .attr("d", (d) => line(d))
          .attr("fill", "none")
          .attr("stroke", "#8c8c8c")
          .attr("stroke-opacity", 0.5)
          .attr("stroke-width", 1.2)
          .attr("stroke-linejoin", "round");

        g.append("text")
          .attr("x", x0 + 78)
          .attr("y", labelY[r])
          .attr("text-anchor", "middle")
          .attr("fill", "#111")
          .style("font-family", "Liberation Sans, Arial, sans-serif")
          .style("font-size", "17px")
          .text(gridLabels[r][c]);
      });
    });
  }, []);

  return <svg ref={ref} width={W} height={H} style={{ display: "block" }} />;
};

export default App;
